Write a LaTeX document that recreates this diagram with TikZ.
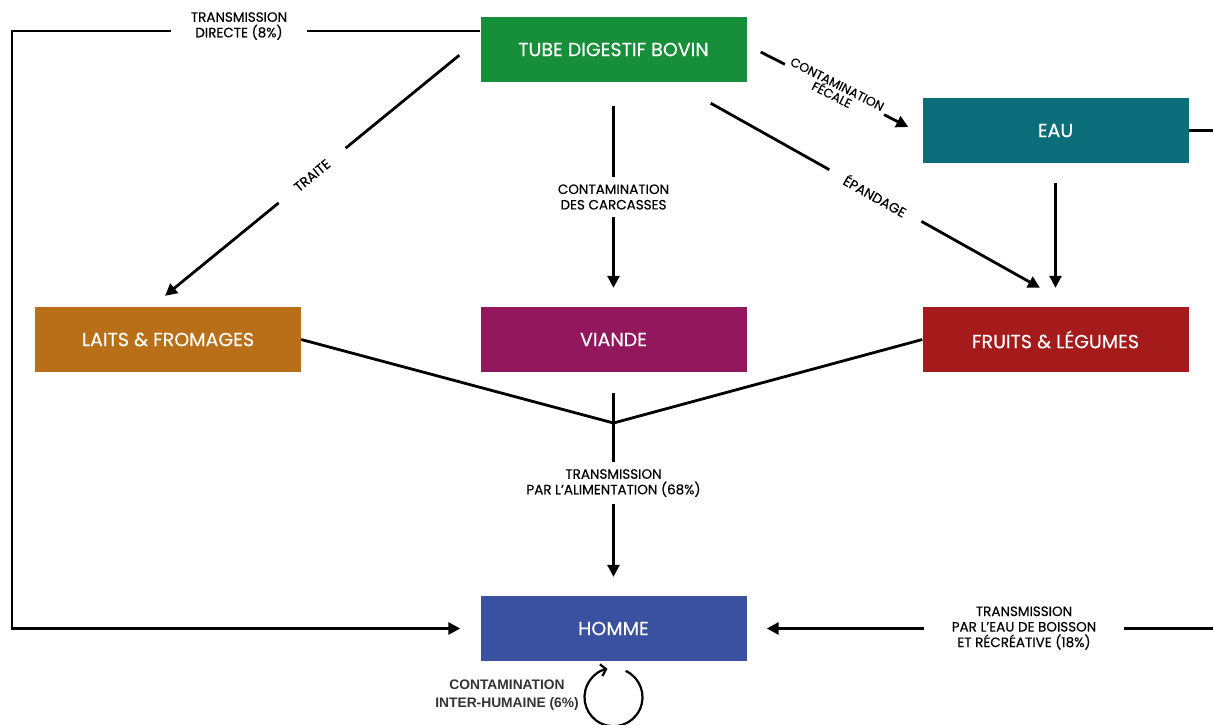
\documentclass[tikz,border=0pt]{standalone}
\usepackage{fontspec}
\setmainfont{Poppins}[FakeBold=0.3]
\newfontfamily\arialb{Liberation Sans}
\usetikzlibrary{arrows.meta,calc}
\definecolor{cTube}{HTML}{178F3A}
\definecolor{cEau}{HTML}{0C6E7B}
\definecolor{cLait}{HTML}{B86F17}
\definecolor{cViande}{HTML}{93175C}
\definecolor{cFruit}{HTML}{A51B1B}
\definecolor{cHomme}{HTML}{3951A0}
\definecolor{cLoopTxt}{HTML}{333333}
\begin{document}
\begin{tikzpicture}[x=1pt,y=-1pt,
  box/.style={minimum width=266pt,minimum height=65pt,inner sep=0pt,text=white,font=\fontsize{19}{22}\selectfont},
  lbl/.style={fill=white,align=center,font=\fontsize{13.5}{15.5}\selectfont,inner xsep=12pt,inner ysep=7pt},
  ln/.style={line width=2.8pt},
  arr/.style={ln,-{Triangle[length=12pt,width=12pt]}}]
\useasboundingbox (0,0) rectangle (1213,724);
% boxes
\node[box,fill=cTube]   (tube)   at (613.5,49.5)  {TUBE DIGESTIF BOVIN};
\node[box,fill=cEau]    (eau)    at (1055.5,130.5) {EAU};
\node[box,fill=cLait]   (laits)  at (168,339.5)   {LAITS \& FROMAGES};
\node[box,fill=cViande] (viande) at (613.5,339.5) {VIANDE};
\node[box,fill=cFruit]  (fruits) at (1055.5,339.5) {FRUITS \& LÉGUMES};
\node[box,fill=cHomme]  (homme)  at (613.5,628.5) {HOMME};
% helper coordinates
\coordinate (d1) at (12,31);
\coordinate (d2) at (12,628.5);
\coordinate (hL) at ($(homme.west)+(-20,0)$);
\coordinate (hR) at ($(homme.east)+(20,0)$);
\coordinate (r1) at (1220,130.5);
\coordinate (r2) at (1220,628.5);
\coordinate (t1) at ($(tube.south west)+(-21,-27)$);
\coordinate (t2) at ($(laits.north)+(-3,-11)$);
\coordinate (c1) at ($(tube.south)+(0,24)$);
\coordinate (c2) at ($(viande.north)+(0,-19)$);
\coordinate (e1) at ($(tube.south east)+(-36,21)$);
\coordinate (e2) at ($(fruits.north)+(-15.5,-19)$);
\coordinate (f1) at ($(tube.east)+(14,2.5)$);
\coordinate (f2) at ($(eau.west)+(-14,-3.5)$);
\coordinate (w1) at ($(eau.south)+(0,20)$);
\coordinate (w2) at ($(fruits.north)+(0,-19)$);
\coordinate (v1) at ($(viande.south)+(0,21)$);
\coordinate (j)  at (613.5,423);
\coordinate (hN) at ($(homme.north)+(0,-19)$);
\coordinate (loopc) at ($(homme.south)+(0,36)$);
% connectors
\draw[arr] (tube.west|-d1) -- (d1) -- (d2) -- (hL);
\node[lbl,inner xsep=20pt] (ldir) at (239,26) {TRANSMISSION\\DIRECTE (8\%)};
\draw[arr] (t1) -- node[lbl,sloped,inner xsep=22pt,inner ysep=14pt] (ltr) {TRAITE} (t2);
\draw[arr] (c1) -- node[lbl] (lca) {CONTAMINATION\\DES CARCASSES} (c2);
\draw[arr] (e1) -- node[lbl,sloped,inner xsep=18pt,inner ysep=14pt] (lep) {ÉPANDAGE} (e2);
\draw[arr] (f1) -- node[lbl,sloped,inner xsep=4pt,inner ysep=3pt,font=\fontsize{12.5}{12}\selectfont] (lfe) {CONTAMINATION\\FÉCALE} (f2);
\draw[arr] (w1) -- (w2);
\draw[ln] (laits.east) -- (j) -- (fruits.west);
\draw[ln] (v1) -- (j);
\draw[arr] (j) -- node[lbl,pos=0.39,minimum width=266pt] (lal) {TRANSMISSION\\PAR L’ALIMENTATION (68\%)} (hN);
\draw[arr] (eau.east) -- (r1) -- (r2) -- (hR);
\node[lbl,minimum width=200pt] (leau) at (1024,628) {TRANSMISSION\\PAR L’EAU DE BOISSON\\ET RÉCRÉATIVE (18\%)};
% self loop
\draw[line width=2.2pt,-{Straight Barb[length=5pt,width=12pt]}] ($(loopc)+(-65:29)$) arc[start angle=-65,end angle=258,radius=29];
\node[align=center,font=\arialb\bfseries\fontsize{13.8}{18}\selectfont,text=cLoopTxt] (lhum) at (507,695) {CONTAMINATION\\INTER-HUMAINE (6\%)};
\end{tikzpicture}
\end{document}
